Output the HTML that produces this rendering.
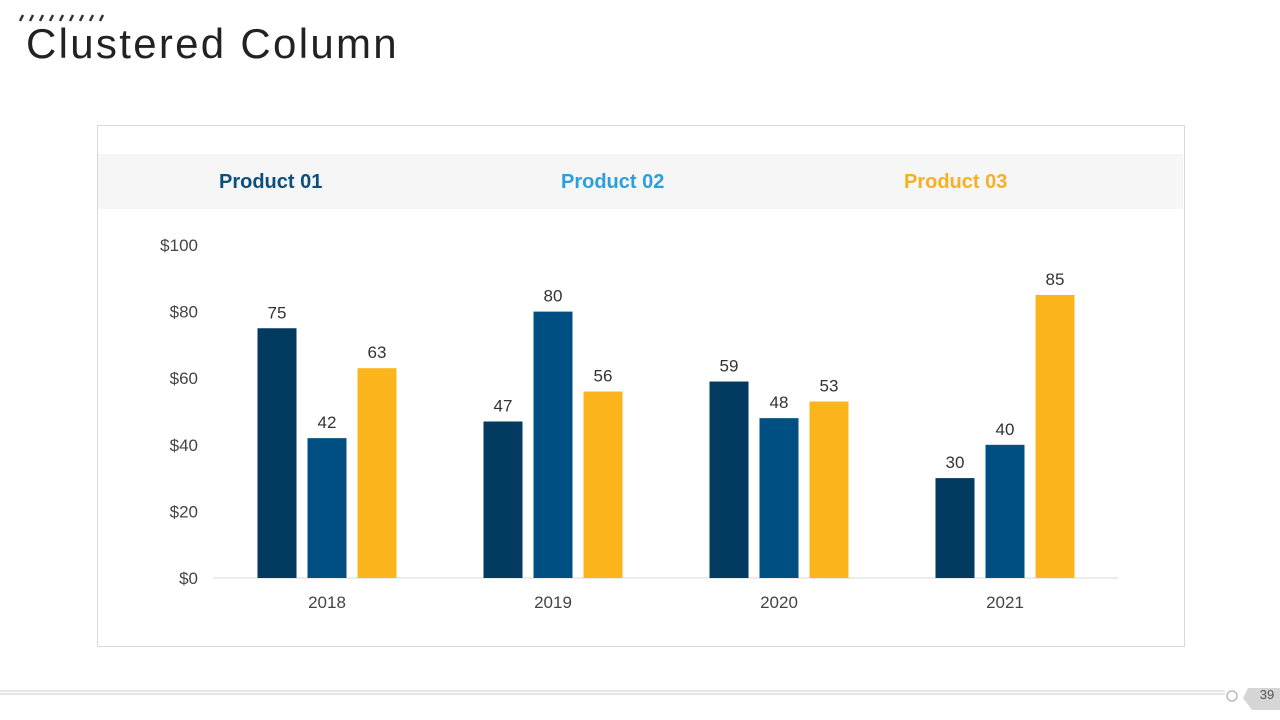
<!DOCTYPE html>
<html><head><meta charset="utf-8"><style>
body{margin:0;width:1280px;height:720px;background:#fff;font-family:"Liberation Sans",sans-serif;position:relative;overflow:hidden}
.title{position:absolute;left:26px;top:20px;font-size:42px;color:#222;letter-spacing:2.3px}
.box{position:absolute;left:97px;top:125px;width:1086px;height:520px;border:1px solid #d9d9d9}
.band{position:absolute;left:98px;top:154px;width:1085px;height:55px;background:#f6f6f6}
.leg{position:absolute;top:171px;font-size:20px;font-weight:bold}
</style></head><body>
<svg style="position:absolute;left:18px;top:13px" width="90" height="10">
<g stroke="#333" stroke-width="2.5">
<line x1="2" y1="8" x2="5" y2="2"/><line x1="12" y1="8" x2="15" y2="2"/><line x1="22" y1="8" x2="25" y2="2"/><line x1="32" y1="8" x2="35" y2="2"/><line x1="42" y1="8" x2="45" y2="2"/><line x1="52" y1="8" x2="55" y2="2"/><line x1="62" y1="8" x2="65" y2="2"/><line x1="72" y1="8" x2="75" y2="2"/><line x1="82" y1="8" x2="85" y2="2"/></g></svg>
<div class="title">Clustered Column</div>
<div class="box"></div>
<div class="band"></div>
<div class="leg" style="left:219px;color:#0b4f7c">Product 01</div>
<div class="leg" style="left:561px;color:#29a0dc">Product 02</div>
<div class="leg" style="left:904px;color:#f5b120">Product 03</div>
<svg id="chart" width="1280" height="720" style="position:absolute;left:0;top:0"></svg>
<svg style="position:absolute;left:0;top:680px" width="1280" height="40">
<line x1="0" y1="11" x2="1225" y2="11" stroke="#ccc"/><line x1="0" y1="14" x2="1225" y2="14" stroke="#ccc"/>
<circle cx="1232" cy="16" r="5" fill="none" stroke="#bbb" stroke-width="1.5"/>
<path d="M1248 8 H1280 V30 H1252 L1243 18 Z" fill="#d5d5d5"/>
<text x="1267" y="19" font-size="13" fill="#555" text-anchor="middle" font-family="Liberation Sans">39</text>
</svg>
<script>
const categories=["2018","2019","2020","2021"];
const product01=[75,47,59,30];
const product02=[42,80,48,40];
const product03=[63,56,53,85];
const yTicks=[0,20,40,60,80,100];
const series=[product01,product02,product03];
const colors=["#023a60","#004f82","#fbb41b"];
const svg=document.getElementById('chart');
const NS="http://www.w3.org/2000/svg";
const y0=578,y1=245,vmax=100;
const y=v=>y0-(v/vmax)*(y0-y1);
const x=i=>327+i*226;
function el(t,a){const e=document.createElementNS(NS,t);for(const k in a)e.setAttribute(k,a[k]);svg.appendChild(e);return e;}
const ax=el('line',{x1:213,x2:1118,y1:y0,y2:y0,stroke:'#d9d9d9'});


yTicks.forEach(t=>{const e=el('text',{x:198,y:y(t)+6,'text-anchor':'end','font-size':17,fill:'#444'});e.textContent='$'+t;

});
categories.forEach((c,i)=>{const e=el('text',{x:x(i),y:608,'text-anchor':'middle','font-size':17,fill:'#444'});e.textContent=c;


series.forEach((s,j)=>{const cx=x(i)+(j-1)*50;const r=el('rect',{x:cx-19.5,y:y(s[i]),width:39,height:y0-y(s[i]),fill:colors[j]});


const l=el('text',{x:cx,y:y(s[i])-10,'text-anchor':'middle','font-size':17,fill:'#333'});l.textContent=s[i];

});});
</script>
</body></html>
